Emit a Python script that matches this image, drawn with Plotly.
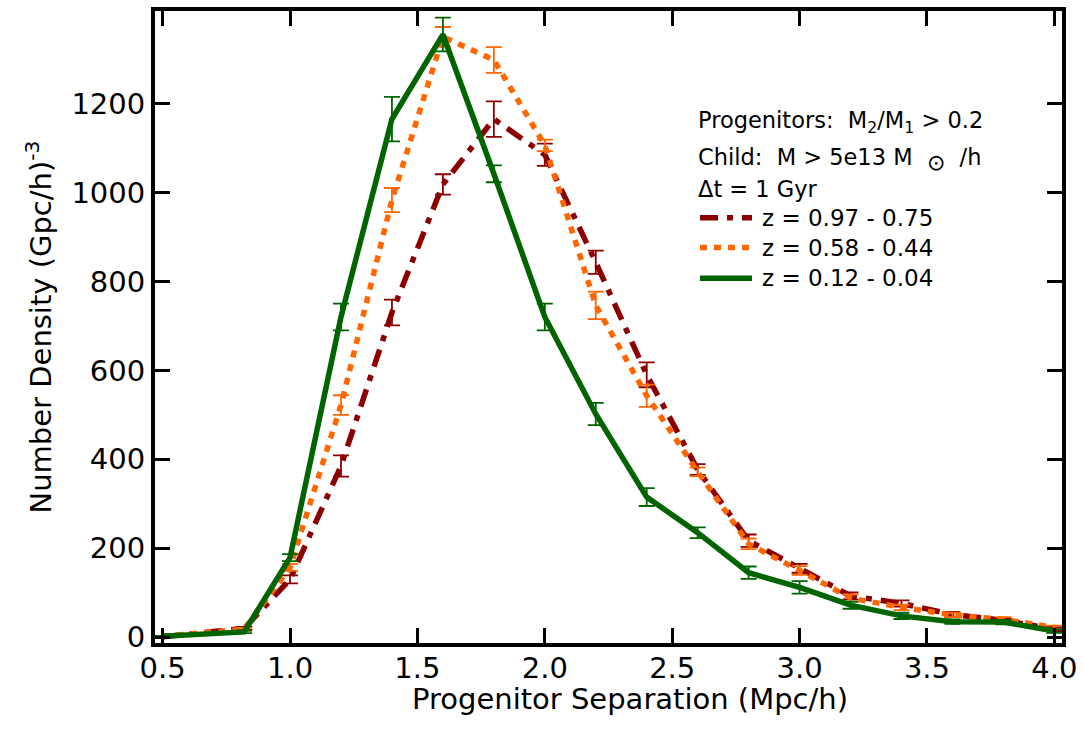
import plotly.graph_objects as go

# Data
separation = [0.5, 0.82, 1.0, 1.2, 1.4, 1.6, 1.8, 2.0, 2.2, 2.4, 2.6, 2.8, 3.0, 3.2, 3.4, 3.6, 3.8, 4.0]

dens_z097 = [1, 20, 130, 385, 730, 1018, 1165, 1085, 843, 590, 377, 217, 155, 93, 76, 51, 38, 18]
err_z097 = [1, 3, 9, 24, 29, 23, 40, 25, 26, 28, 12, 14, 10, 8, 7, 6, 5, 4]

dens_z058 = [2, 18, 157, 522, 983, 1350, 1298, 1106, 746, 543, 372, 210, 150, 88, 67, 50, 40, 22]
err_z058 = [1, 3, 8, 22, 27, 22, 29, 13, 31, 25, 10, 12, 10, 8, 6, 5, 5, 4]

dens_z012 = [2, 12, 179, 720, 1165, 1355, 1042, 720, 502, 315, 235, 145, 112, 72, 48, 35, 34, 14]
err_z012 = [1, 3, 8, 30, 50, 38, 19, 30, 25, 20, 12, 14, 14, 8, 7, 5, 5, 4]

series_names = ["z = 0.97 - 0.75", "z = 0.58 - 0.44", "z = 0.12 - 0.04"]
x_ticks = [0.5, 1.0, 1.5, 2.0, 2.5, 3.0, 3.5, 4.0]
y_ticks = [0, 200, 400, 600, 800, 1000, 1200]

FONT = "DejaVu Sans"
colors = ["#8B0000", "#FF6600", "#006400"]
dashes = ["18px,9px,6px,9px", "7px,7px", "solid"]

# plot-area geometry in page pixels
L, R, T, B = 155, 1062, 7, 643
W, H = R - L, B - T


def px(xp):
    return (xp - L) / W


def py(yp):
    return (B - yp) / H


fig = go.Figure()
for name, y, e, c, d in zip(series_names, [dens_z097, dens_z058, dens_z012],
                            [err_z097, err_z058, err_z012], colors, dashes):
    fig.add_trace(go.Scatter(
        x=separation, y=y, name=name, mode="lines",
        line=dict(color=c, width=5.5, dash=d),
        error_y=dict(type="data", array=e, visible=True, color=c, thickness=1.8, width=8),
        showlegend=False,
    ))

axis_common = dict(
    showline=True, linewidth=4, linecolor="black", mirror="ticks",
    ticks="inside", ticklen=15, tickwidth=3, tickcolor="black",
    showgrid=False, zeroline=False,
    tickfont=dict(family=FONT, size=29, color="black"),
)

fig.update_xaxes(range=[0.47, 4.03], tickvals=x_ticks,
                 ticktext=[f"{v:.1f}" for v in x_ticks], ticklabelstandoff=-4, **axis_common)
fig.update_yaxes(
    range=[-13, 1408], tickvals=y_ticks, ticktext=[str(v) for v in y_ticks],
    title=dict(text="Number Density (Gpc/h)<sup>-3</sup>", font=dict(family=FONT, size=29, color="black"), standoff=12),
    **axis_common,
)

# x-axis title
fig.add_annotation(text="Progenitor Separation (Mpc/h)", xref="paper", yref="paper",
                   x=px(630), y=py(699), xanchor="center", yanchor="middle", showarrow=False,
                   font=dict(family=FONT, size=29, color="black"))

ann_font = dict(family=FONT, size=22.5, color="black")
for txt, ypix in [("Progenitors:  M<sub>2</sub>/M<sub>1</sub> > 0.2", 119),
                  ("Child:  M > 5e13 M  <sub><span style='font-size:22px'>⊙</span></sub>  /h", 156),
                  ("Δt = 1 Gyr", 186)]:
    fig.add_annotation(text=txt, xref="paper", yref="paper",
                       x=px(696), y=py(ypix),
                       xanchor="left", yanchor="middle", showarrow=False, font=ann_font)

# legend (drawn as key samples + labels)
for name, c, d, ypix in zip(series_names, colors, dashes, [215, 245, 276]):
    fig.add_shape(type="line", xref="paper", yref="paper",
                  x0=px(700), x1=px(752), y0=py(ypix), y1=py(ypix),
                  line=dict(color=c, width=5.5, dash=d))
    fig.add_annotation(text=name, xref="paper", yref="paper",
                       x=px(760), y=py(ypix), xanchor="left", yanchor="middle",
                       showarrow=False, font=dict(family=FONT, size=23, color="black"))

fig.update_layout(
    width=1084, height=739,
    margin=dict(l=L, r=1084 - R, t=T, b=739 - B),
    paper_bgcolor="white", plot_bgcolor="white",
    showlegend=False,
)

fig.write_html("out.html", post_script="document.body.style.margin='0';",
               config={"displayModeBar": False})
